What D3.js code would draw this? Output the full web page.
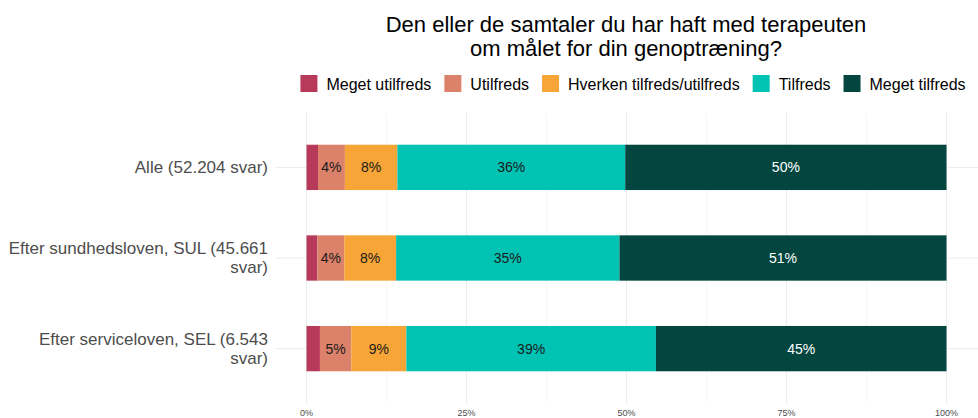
<!DOCTYPE html>
<html>
<head>
<meta charset="utf-8">
<script src="https://cdn.jsdelivr.net/npm/d3@7"></script>
<style>
  body { margin: 0; background: #fff; }
  svg { font-family: "Liberation Sans", Arial, sans-serif; }
</style>
</head>
<body>
<svg id="chart" width="978" height="418"></svg>
<script>
const categories = ["Alle (52.204 svar)", "Efter sundhedsloven, SUL (45.661 svar)", "Efter serviceloven, SEL (6.543 svar)"]
const labelLines = [["Alle (52.204 svar)"], ["Efter sundhedsloven, SUL (45.661", "svar)"], ["Efter serviceloven, SEL (6.543", "svar)"]]
const answers = ["Meget utilfreds", "Utilfreds", "Hverken tilfreds/utilfreds", "Tilfreds", "Meget tilfreds"]
const colors = ["#b83a5a", "#dd826a", "#f7a536", "#00c3b4", "#02463f"]
// percent per category, in answer order
const megetUtilfreds = [1.8, 1.7, 2.1]
const utilfreds = [4.2, 4.2, 4.9]
const hverken = [8.2, 8.1, 8.6]
const tilfreds = [35.6, 34.9, 39.0]
const megetTilfreds = [50.2, 51.1, 45.4]
const xTicks = [0, 25, 50, 75, 100]

const series = [megetUtilfreds, utilfreds, hverken, tilfreds, megetTilfreds]

const svg = d3.select("#chart")
const plotLeft = 306.5, plotRight = 946.5, plotTop = 113, plotBottom = 403

const x = d3.scaleLinear().domain([0, 100]).range([plotLeft, plotRight])
const y = d3.scaleBand().domain(categories).range([plotTop, plotBottom]).paddingInner(0.5).paddingOuter(0.35)

// gridlines (major + minor)
const minor = d3.range(12.5, 100, 25)
svg.append("g").selectAll("line").data(minor).join("line")
  .attr("x1", d => x(d)).attr("x2", d => x(d))
  .attr("y1", plotTop).attr("y2", plotBottom)
  .attr("stroke", "#f2f2f2").attr("stroke-width", 0.6)
svg.append("g").selectAll("line").data(xTicks).join("line")
  .attr("x1", d => x(d)).attr("x2", d => x(d))
  .attr("y1", plotTop).attr("y2", plotBottom)
  .attr("stroke", "#ebebeb").attr("stroke-width", 1)
svg.append("g").selectAll("line").data(categories).join("line")
  .attr("x1", 276).attr("x2", 978)
  .attr("y1", d => y(d) + y.bandwidth() / 2).attr("y2", d => y(d) + y.bandwidth() / 2)
  .attr("stroke", "#ebebeb").attr("stroke-width", 1)

// stacked bars
categories.forEach((cat, ci) => {
  let cum = 0
  series.forEach((s, si) => {
    const v = s[ci]
    const x0 = x(cum), x1 = x(cum + v)
    svg.append("rect")
      .attr("x", x0).attr("y", y(cat))
      .attr("width", x1 - x0).attr("height", y.bandwidth())
      .attr("fill", colors[si])
    if (v >= 3) {
      svg.append("text")
        .attr("x", (x0 + x1) / 2).attr("y", y(cat) + y.bandwidth() / 2)
        .attr("dy", "0.35em").attr("text-anchor", "middle")
        .attr("font-size", 14)
        .attr("fill", si === 4 ? "#ffffff" : "#1a1a1a")
        .text(Math.round(v) + "%")
    }
    cum += v
  })
})

// y labels
categories.forEach((cat, ci) => {
  const lines = labelLines[ci]
  const cy = y(cat) + y.bandwidth() / 2
  const lh = 19
  const t = svg.append("text")
    .attr("text-anchor", "end").attr("font-size", 17).attr("fill", "#4d4d4d")
  lines.forEach((ln, li) => {
    t.append("tspan")
      .attr("x", 268)
      .attr("y", cy + (li - (lines.length - 1) / 2) * lh)
      .attr("dy", "0.35em")
      .text(ln)
  })
})

// x axis labels
svg.append("g").selectAll("text").data(xTicks).join("text")
  .attr("x", d => x(d)).attr("y", 416)
  .attr("text-anchor", "middle").attr("font-size", 9).attr("fill", "#4d4d4d")
  .text(d => d + "%")

// title
const title = svg.append("text").attr("text-anchor", "middle").attr("font-size", 22).attr("fill", "#000")
title.append("tspan").attr("x", 626).attr("y", 32).text("Den eller de samtaler du har haft med terapeuten")
title.append("tspan").attr("x", 626).attr("y", 56).text("om målet for din genoptræning?")

// legend
const legend = svg.append("g")
let lx = 0
answers.forEach((a, i) => {
  const g = legend.append("g").attr("transform", `translate(${lx},0)`)
  g.append("rect").attr("x", 0).attr("y", 75).attr("width", 17).attr("height", 17).attr("fill", colors[i])
  const t = g.append("text").attr("x", 26).attr("y", 84).attr("dy", "0.35em")
    .attr("font-size", 16).attr("fill", "#000").text(a)
  lx += 26 + t.node().getComputedTextLength() + 13
})
const lw = lx - 13
legend.attr("transform", `translate(${633 - lw / 2},0)`)
</script>
</body>
</html>
